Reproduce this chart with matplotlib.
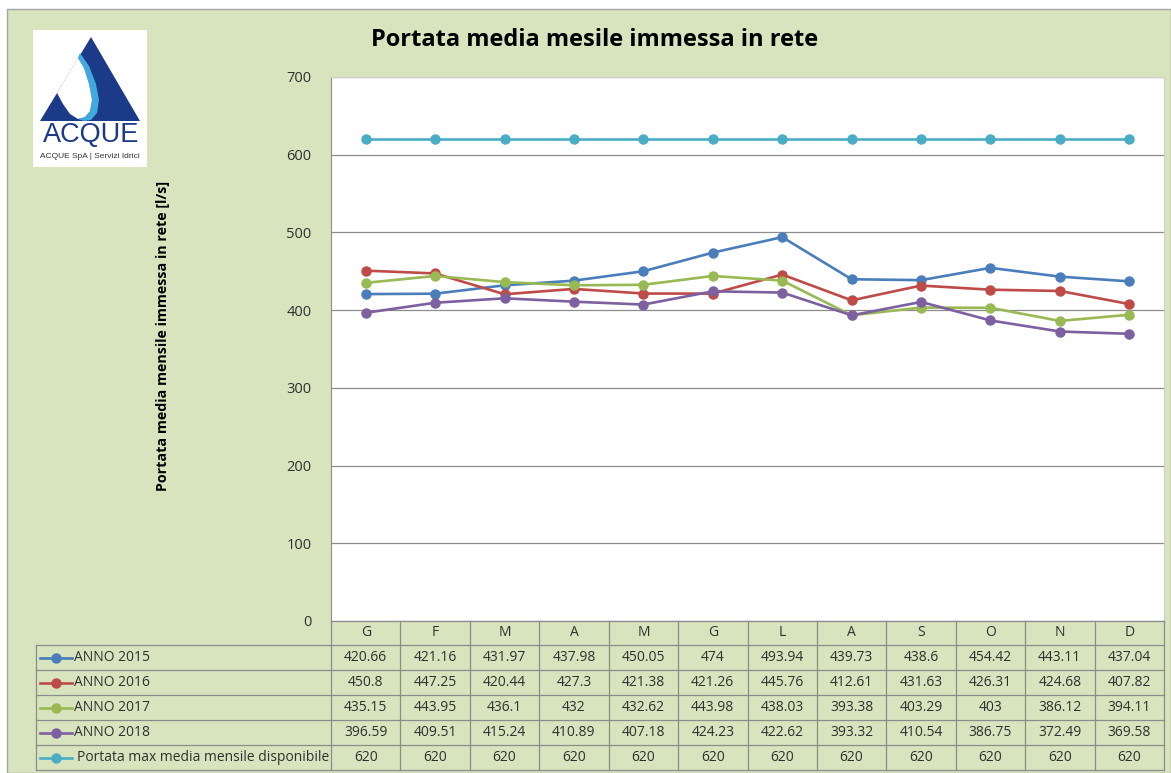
import matplotlib
matplotlib.use("Agg")
from matplotlib import pyplot as plt
from matplotlib.patches import Rectangle, Polygon
from matplotlib.lines import Line2D

W, H = 1171, 773

months = ["G", "F", "M", "A", "M", "G", "L", "A", "S", "O", "N", "D"]
anno_2015 = [420.66, 421.16, 431.97, 437.98, 450.05, 474, 493.94, 439.73, 438.6, 454.42, 443.11, 437.04]
anno_2016 = [450.8, 447.25, 420.44, 427.3, 421.38, 421.26, 445.76, 412.61, 431.63, 426.31, 424.68, 407.82]
anno_2017 = [435.15, 443.95, 436.1, 432, 432.62, 443.98, 438.03, 393.38, 403.29, 403, 386.12, 394.11]
anno_2018 = [396.59, 409.51, 415.24, 410.89, 407.18, 424.23, 422.62, 393.32, 410.54, 386.75, 372.49, 369.58]
portata_max = [620] * 12

series_names = ["ANNO 2015", "ANNO 2016", "ANNO 2017", "ANNO 2018",
                "Portata max media mensile disponibile"]
series_values = [anno_2015, anno_2016, anno_2017, anno_2018, portata_max]
colors = ["#4A7EBB", "#BE4B48", "#98B954", "#7D60A0", "#4BACC6"]

plt.rcParams['font.family'] = ['Open Sans', 'DejaVu Sans']


def fx(px):
    return px / W


def fy(py):
    return 1 - py / H


def pts(seq):
    return [(fx(a), fy(b)) for a, b in seq]


fig = plt.figure(figsize=(W / 100, H / 100), dpi=100)
fig.patch.set_facecolor("white")

# green background panel
fig.add_artist(Rectangle((fx(7), fy(H)), fx(W - 7), fy(9) - fy(H), transform=fig.transFigure,
                         facecolor="#D7E4BD", edgecolor="#A6A6A6", lw=1, zorder=0))

# plot area
left, right, top, bottom = 331, 1164, 77, 621
ax = fig.add_axes([fx(left), fy(bottom), fx(right - left), fy(top) - fy(bottom)])
ax.set_facecolor("white")
x = list(range(len(months)))
for vals, c in zip(series_values, colors):
    ax.plot(x, vals, color=c, lw=1.9, marker="o", ms=6.5, zorder=3)
ax.set_xlim(-0.5, 11.5)
ax.set_ylim(0, 700)
ax.set_yticks(range(0, 701, 100))
ax.set_xticks([])
ax.yaxis.grid(True, color="#8C8C8C", lw=0.9)
ax.set_axisbelow(True)
ax.tick_params(axis="y", length=0, pad=14, labelsize=10.5, labelcolor="#303030")
for s in ["top", "right"]:
    ax.spines[s].set_color("#D0D0D0")
ax.spines["left"].set_color("#8C8C8C")
ax.spines["bottom"].set_visible(False)

# title and axis label
fig.text(fx(595), fy(40), "Portata media mesile immessa in rete", ha="center", va="center",
         fontsize=17, fontweight="bold", color="black")
fig.text(fx(163), fy(336), "Portata media mensile immessa in rete [l/s]", rotation=90,
         ha="center", va="center", fontsize=10.3, fontweight="bold", color="black")

# data table under the chart
grid_c = "#8C8C8C"
col_w = (right - left) / len(months)
row_top = [621, 645, 670, 695, 720, 745]
row_h = 25
tbl_bottom = 770
tab_left = 36


def hline(y, x0, x1):
    fig.add_artist(Line2D([fx(x0), fx(x1)], [fy(y), fy(y)], transform=fig.transFigure,
                          color=grid_c, lw=0.9))


def vline(xp, y0, y1):
    fig.add_artist(Line2D([fx(xp), fx(xp)], [fy(y0), fy(y1)], transform=fig.transFigure,
                          color=grid_c, lw=0.9))


hline(621, left, right)
for y in row_top[1:] + [tbl_bottom]:
    hline(y, tab_left, right)
vline(tab_left, 645, tbl_bottom)
for i in range(len(months) + 1):
    vline(left + i * col_w, 621, tbl_bottom)

for i, m in enumerate(months):
    fig.text(fx(left + (i + 0.5) * col_w), fy(633), m, ha="center", va="center",
             fontsize=10, color="#303030")

for r, (name, vals, c) in enumerate(zip(series_names, series_values, colors)):
    yc = row_top[r + 1] + row_h / 2
    fig.add_artist(Line2D([fx(40), fx(72)], [fy(yc), fy(yc)], transform=fig.transFigure,
                          color=c, lw=1.9))
    fig.add_artist(Line2D([fx(56)], [fy(yc)], transform=fig.transFigure, color=c,
                          marker="o", ms=6.5, lw=0))
    fig.text(fx(74 if r < 4 else 77), fy(yc), name, ha="left", va="center",
             fontsize=10, color="#303030")
    for i, v in enumerate(vals):
        fig.text(fx(left + (i + 0.5) * col_w), fy(yc), f"{v:g}", ha="center", va="center",
                 fontsize=10, color="#303030")

# logo
navy = "#1B3A87"
fig.add_artist(Rectangle((fx(33), fy(167)), fx(114), fy(30) - fy(167), transform=fig.transFigure,
                         facecolor="white", edgecolor="none"))
fig.add_artist(Polygon(pts([(91, 37), (40, 121), (140, 121)]),
                       transform=fig.transFigure, facecolor=navy, edgecolor="none"))
# light blue edge of the drop
fig.add_artist(Polygon(pts([(80, 53), (89, 66), (96, 84), (99, 100), (97, 113), (91, 120),
                            (84, 121), (78, 119), (85, 117), (90, 111), (92, 100), (89, 84),
                            (84, 68), (78, 58)]),
                       transform=fig.transFigure, facecolor="#3FA9E0", edgecolor="none"))
# white drop
fig.add_artist(Polygon(pts([(78, 58), (84, 68), (89, 84), (92, 100), (90, 111), (85, 117),
                            (78, 119), (70, 114), (63, 104), (57, 93)]),
                       transform=fig.transFigure, facecolor="white", edgecolor="none"))
fig.text(fx(91), fy(135), "ACQUE", ha="center", va="center", fontsize=19.5, color=navy,
         family=["Liberation Sans", "DejaVu Sans"])
fig.text(fx(90), fy(156), "ACQUE SpA | Servizi Idrici", ha="center", va="center", fontsize=6,
         color="#333333", family=["Liberation Sans Narrow", "Liberation Sans", "DejaVu Sans"])

fig.savefig("out.png", dpi=100, facecolor=fig.get_facecolor())
